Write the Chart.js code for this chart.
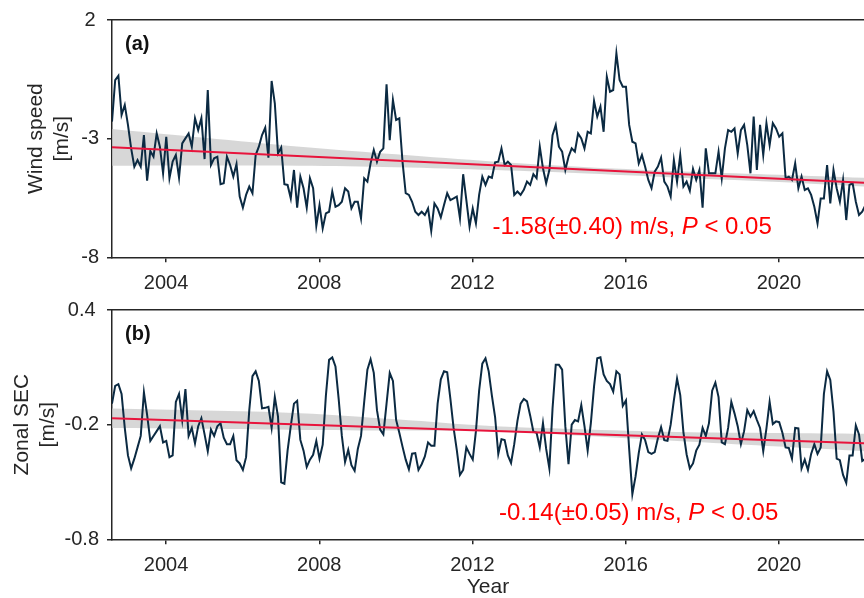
<!DOCTYPE html>
<html>
<head>
<meta charset="utf-8">
<script src="https://cdn.jsdelivr.net/npm/chart.js@4.4.1/dist/chart.umd.min.js"></script>
<style>
  html, body { margin: 0; padding: 0; background: #ffffff; }
  #wrap { position: relative; width: 864px; height: 598px; overflow: hidden; background: #ffffff; }
  canvas { position: absolute; left: 0; }
  #windChart { top: 0; }
  #secChart { top: 290px; }
</style>
</head>
<body>
<div id="wrap">
  <canvas id="windChart" width="864" height="290" style="width:864px;height:290px"></canvas>
  <canvas id="secChart" width="864" height="308" style="width:864px;height:308px"></canvas>
</div>
<script>
// Monthly series, first sample at 2002.59 (decimal year)
const startYear = 2002.59;

// Wind speed anomaly [m/s]
const windSpeed = [
  -2.28, -0.53, -0.35, -2.00, -1.58, -2.42, -3.41, -4.18, -3.90, -4.18, -2.85, -4.77,
  -3.52, -3.76, -2.78, -3.34, -4.46, -2.92, -4.67, -3.97, -3.69, -4.64, -3.20, -2.99,
  -2.78, -3.34, -2.14, -2.64, -2.14, -3.86, -0.95, -4.11, -3.83, -3.76, -4.92, -4.88,
  -3.76, -4.11, -4.60, -4.07, -5.44, -5.91, -5.37, -5.02, -5.30, -3.69, -3.34, -2.85,
  -2.54, -3.80, -0.57, -1.51, -3.62, -3.37, -4.92, -4.95, -5.52, -4.32, -5.91, -4.60,
  -5.09, -5.91, -4.67, -5.09, -6.67, -5.80, -6.78, -6.15, -6.08, -5.23, -5.87, -5.80,
  -5.66, -5.09, -5.23, -5.94, -5.66, -5.66, -6.36, -4.67, -4.81, -4.04, -3.48, -3.97,
  -3.55, -3.41, -0.71, -3.06, -1.37, -2.21, -2.14, -3.97, -5.30, -5.37, -5.66, -6.08,
  -6.22, -6.08, -6.22, -5.94, -6.89, -5.73, -5.94, -6.32, -5.80, -5.30, -5.59, -5.52,
  -5.44, -6.36, -4.50, -5.59, -6.71, -5.94, -6.57, -5.37, -4.60, -4.95, -4.60, -4.65,
  -4.00, -3.97, -3.41, -4.11, -3.97, -4.11, -5.37, -5.23, -5.37, -5.16, -4.81, -4.95,
  -4.50, -4.67, -3.34, -4.25, -4.88, -4.32, -2.85, -2.42, -3.34, -3.55, -4.32, -3.76,
  -3.41, -3.55, -2.78, -2.99, -3.41, -2.71, -2.78, -1.41, -2.07, -1.65, -2.71, -0.39,
  -1.02, -0.95, 0.60, -0.53, -0.81, -0.81, -2.42, -3.13, -3.20, -4.04, -3.69, -4.18,
  -4.74, -5.09, -4.39, -4.18, -3.80, -4.81, -5.02, -5.44, -3.90, -4.81, -3.69, -5.02,
  -4.81, -5.20, -4.28, -4.74, -4.32, -5.91, -3.41, -4.46, -4.46, -4.46, -3.55, -4.67,
  -3.41, -2.64, -2.71, -2.57, -3.62, -2.64, -2.42, -3.27, -4.46, -2.07, -4.32, -2.42,
  -3.69, -2.35, -3.27, -2.35, -2.57, -2.92, -2.78, -4.67, -4.60, -4.74, -4.04, -5.09,
  -4.60, -5.16, -5.09, -5.37, -5.87, -6.57, -5.52, -5.52, -4.11, -5.73, -4.32, -5.09,
  -5.66, -4.74, -6.43, -4.95, -4.88, -5.66, -6.22, -6.08, -5.80
];

// Zonal surface current [m/s]
const zonalSEC = [
  -0.090, 0.003, 0.012, -0.039, -0.217, -0.361, -0.429, -0.378, -0.319, -0.259, -0.031, -0.149,
  -0.285, -0.259, -0.234, -0.208, -0.293, -0.285, -0.370, -0.361, -0.081, -0.039, -0.175, -0.014,
  -0.259, -0.217, -0.298, -0.208, -0.166, -0.251, -0.339, -0.226, -0.259, -0.208, -0.192, -0.268,
  -0.302, -0.302, -0.259, -0.386, -0.403, -0.437, -0.370, -0.124, 0.054, 0.079, 0.029, -0.115,
  -0.112, -0.107, -0.217, -0.056, -0.158, -0.502, -0.509, -0.336, -0.208, -0.090, -0.075, -0.280,
  -0.336, -0.421, -0.383, -0.358, -0.285, -0.378, -0.305, -0.048, 0.139, 0.152, 0.105, -0.065,
  -0.259, -0.395, -0.332, -0.412, -0.441, -0.327, -0.259, -0.081, 0.088, 0.142, 0.071, -0.124,
  -0.226, -0.251, -0.090, 0.071, 0.029, -0.175, -0.242, -0.315, -0.383, -0.434, -0.352, -0.349,
  -0.437, -0.407, -0.366, -0.293, -0.310, -0.310, -0.090, 0.037, 0.079, 0.074, -0.065, -0.217,
  -0.332, -0.463, -0.437, -0.319, -0.353, -0.383, -0.234, -0.022, 0.119, 0.147, 0.079, -0.048,
  -0.160, -0.353, -0.276, -0.281, -0.361, -0.400, -0.302, -0.180, -0.090, -0.065, -0.078, -0.153,
  -0.237, -0.242, -0.319, -0.192, -0.327, -0.429, -0.115, 0.113, 0.113, 0.088, -0.208, -0.407,
  -0.200, -0.176, -0.183, -0.098, -0.208, -0.336, -0.192, 0.000, 0.147, 0.152, 0.063, 0.029,
  0.012, -0.027, 0.079, 0.063, -0.102, -0.073, -0.327, -0.564, -0.471, -0.349, -0.251, -0.281,
  -0.344, -0.353, -0.344, -0.271, -0.213, -0.281, -0.285, -0.200, -0.073, 0.041, -0.045, -0.240,
  -0.356, -0.429, -0.403, -0.336, -0.305, -0.217, -0.259, -0.192, -0.022, 0.020, -0.056, -0.293,
  -0.302, -0.217, -0.081, -0.141, -0.208, -0.302, -0.234, -0.124, -0.158, -0.129, -0.175, -0.217,
  -0.339, -0.220, -0.081, -0.197, -0.183, -0.187, -0.242, -0.319, -0.322, -0.378, -0.217, -0.220,
  -0.429, -0.383, -0.437, -0.353, -0.302, -0.353, -0.319, -0.039, 0.079, 0.034, -0.132, -0.378,
  -0.386, -0.463, -0.505, -0.361, -0.361, -0.204, -0.251, -0.390, -0.378
];

// Linear trends (start / end of record)
const trendYears = [2002.59, 2022.22];
const windTrend = [-3.36, -4.86];
const secTrend = [-0.166, -0.297];

// Confidence band of each trend
const bandYears = [2002.59, 2005.0, 2007.5, 2010.0, 2012.6, 2015.0, 2017.7, 2020.0, 2022.22];
const windBandUpper = [-2.59, -2.96, -3.34, -3.66, -3.97, -4.20, -4.39, -4.52, -4.65];
const windBandLower = [-4.14, -4.13, -4.14, -4.20, -4.32, -4.47, -4.67, -4.83, -5.02];
const secBandUpper = [-0.116, -0.126, -0.140, -0.172, -0.209, -0.225, -0.240, -0.244, -0.248];
const secBandLower = [-0.217, -0.222, -0.228, -0.231, -0.234, -0.260, -0.290, -0.315, -0.339];

// Axis ticks
const xTicks = [2004, 2008, 2012, 2016, 2020];
const windTicks = [-8, -3, 2];
const secTicks = [-0.8, -0.2, 0.4];
const xRange = [2002.59, 2022.22];

const FONT = '"Liberation Sans", Arial, Helvetica, sans-serif';
const INK = '#262626';

const years = windSpeed.map((_, i) => startYear + i / 12);
const pts = (xs, ys) => ys.map((y, i) => ({ x: xs[i], y }));

// Panel letter and trend statement
const panelText = {
  id: 'panelText',
  afterDraw(chart, args, o) {
    const ctx = chart.ctx;
    const ca = chart.chartArea;
    ctx.save();
    ctx.textBaseline = 'alphabetic';
    ctx.textAlign = 'left';
    ctx.fillStyle = '#111111';
    ctx.font = 'bold 20px ' + FONT;
    ctx.fillText(o.tag, ca.left + 13, ca.top + 29.5);
    let x = o.statX;
    const y = ca.bottom - o.statDy;
    ctx.fillStyle = '#ff0000';
    for (const seg of o.stat) {
      ctx.font = (seg.italic ? 'italic ' : '') + '24px ' + FONT;
      ctx.fillText(seg.t, x, y);
      x += ctx.measureText(seg.t).width;
    }
    ctx.restore();
  }
};

function makePanel(canvasId, cfg) {
  return new Chart(document.getElementById(canvasId), {
    type: 'line',
    data: {
      datasets: [
        {
          data: pts(bandYears, cfg.bandUpper),
          borderWidth: 0, pointRadius: 0, tension: 0.35,
          backgroundColor: 'rgba(200,200,200,0.72)', fill: '+1', order: 3
        },
        {
          data: pts(bandYears, cfg.bandLower),
          borderWidth: 0, pointRadius: 0, tension: 0.35, fill: false, order: 3
        },
        {
          data: pts(years, cfg.series),
          borderColor: '#0b2a42', borderWidth: 2, pointRadius: 0,
          tension: 0, fill: false, order: 2
        },
        {
          data: pts(trendYears, cfg.trend),
          borderColor: '#e8143c', borderWidth: 2, pointRadius: 0, fill: false, order: 1
        }
      ]
    },
    options: {
      responsive: false,
      animation: false,
      events: [],
      layout: { padding: { top: cfg.padTop, left: 0, right: 0, bottom: 0 } },
      plugins: {
        legend: { display: false },
        tooltip: { enabled: false },
        panelText: { tag: cfg.tag, stat: cfg.stat, statX: cfg.statX, statDy: cfg.statDy }
      },
      scales: {
        x: {
          type: 'linear', position: 'bottom',
          min: xRange[0], max: xRange[1],
          afterBuildTicks: s => { s.ticks = xTicks.map(v => ({ value: v })); },
          afterFit: s => { s.height = cfg.xHeight; },
          ticks: {
            color: INK, font: { family: FONT, size: 20 }, padding: 9,
            maxRotation: 0, autoSkip: false, callback: v => String(v)
          },
          grid: { display: true, drawOnChartArea: false, drawTicks: true, tickLength: 5, color: INK, lineWidth: 1.5 },
          border: { display: true, color: INK, width: 1.5 },
          title: cfg.xTitle
        },
        xTop: {
          type: 'linear', position: 'top', axis: 'x',
          min: xRange[0], max: xRange[1],
          afterFit: s => { s.height = 0; },
          ticks: { display: false },
          grid: { display: false },
          border: { display: true, color: INK, width: 1.5 }
        },
        y: {
          type: 'linear', position: 'left',
          min: cfg.yTicks[0], max: cfg.yTicks[cfg.yTicks.length - 1],
          afterBuildTicks: s => { s.ticks = cfg.yTicks.map(v => ({ value: v })); },
          afterFit: s => { s.width = 112; },
          ticks: {
            color: INK, font: { family: FONT, size: 20 }, padding: 8,
            crossAlign: 'center', callback: cfg.yFormat
          },
          grid: { display: true, drawOnChartArea: false, drawTicks: true, tickLength: 5, color: INK, lineWidth: 1.5 },
          border: { display: true, color: INK, width: 1.5 },
          title: {
            display: true, text: cfg.yTitle, color: INK,
            font: { family: FONT, size: 21, lineHeight: 1.2 },
            padding: { top: cfg.yTitlePad, bottom: 0 }
          }
        }
      }
    },
    plugins: [panelText]
  });
}

makePanel('windChart', {
  series: windSpeed, trend: windTrend, bandUpper: windBandUpper, bandLower: windBandLower,
  yTicks: windTicks, yFormat: v => String(v),
  yTitle: ['Wind speed', '[m/s]'], yTitlePad: 24,
  padTop: 20, xHeight: 32.7,
  xTitle: { display: false },
  tag: '(a)',
  stat: [{ t: '-1.58(\u00b10.40) m/s, ' }, { t: 'P', italic: true }, { t: ' < 0.05' }],
  statX: 492.5, statDy: 23.8
});

makePanel('secChart', {
  series: zonalSEC, trend: secTrend, bandUpper: secBandUpper, bandLower: secBandLower,
  yTicks: secTicks, yFormat: v => Number(v).toFixed(1),
  yTitle: ['Zonal SEC', '[m/s]'], yTitlePad: 10,
  padTop: 13.3, xHeight: 58.7,
  xTitle: {
    display: true, text: 'Year', color: INK,
    font: { family: FONT, size: 21, lineHeight: 1.0 },
    padding: { top: 0, bottom: 0 }
  },
  tag: '(b)',
  stat: [{ t: '-0.14(\u00b10.05) m/s, ' }, { t: 'P', italic: true }, { t: ' < 0.05' }],
  statX: 499, statDy: 19.7
});
</script>
</body>
</html>
